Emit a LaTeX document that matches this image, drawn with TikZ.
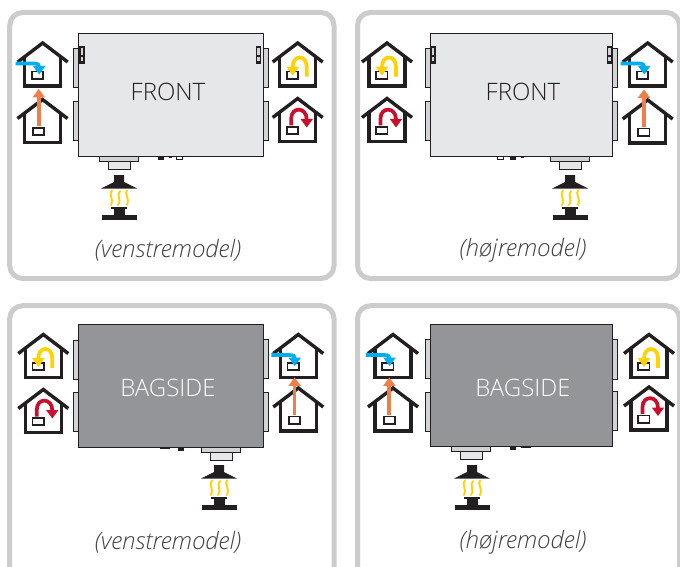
\documentclass[tikz,border=0pt]{standalone}
\usepackage{fontspec}
\setmainfont{Open Sans Light}
\definecolor{panelgrey}{HTML}{CCCCCC}
\definecolor{lightbody}{HTML}{E6E7E8}
\definecolor{darkbody}{HTML}{939598}
\definecolor{flangegrey}{HTML}{D1D3D4}
\definecolor{inkdark}{HTML}{231F20}
\definecolor{textgrey}{HTML}{414042}
\definecolor{airblue}{HTML}{00AEEF}
\definecolor{airorange}{HTML}{EF7F4A}
\definecolor{airyellow}{HTML}{FFD200}
\definecolor{airred}{HTML}{C8102E}
\tikzset{
  x=1pt,y=-1pt,
  panelbox/.style={draw=panelgrey,line width=5pt,rounded corners=13pt,fill=white},
  wall/.style={draw=inkdark,line width=3.4pt,miter limit=10},
  unit/.style={draw=inkdark,line width=0.9pt},
  flange/.style={draw=inkdark,line width=0.5pt,fill=flangegrey},
  flow/.style={line width=3.7pt},
  caption/.style={font=\fontsize{24}{28}\selectfont\itshape,text=textgrey,anchor=center},
  unitlabel/.style={font=\fontsize{24}{28}\selectfont,anchor=center},
  pics/home/.style={code={
    \draw[wall] (-25,19) -- (0,0) -- (25,19);
    \draw[wall] (-18,13) -- (-18,43) -- (18,43) -- (18,13);
    \draw[draw=inkdark,line width=1.8pt,fill=white] (#1,28.5) rectangle ++(11.2,7.2);
  }},
  pics/inflow/.style={code={
    \pic {home={-10.8}};
    \draw[airblue,flow] (-27,20.5) -- (-9,20.5) .. controls (-4.5,20.5) and (-3.5,22) .. (-3.5,24);
    \fill[airblue] (-9.8,23) -- (2.8,23) -- (-3.5,31.5) -- cycle;
  }},
  pics/upflow/.style={code={
    \pic {home={-9.4}};
    \draw[airorange,flow] (-3.7,27) -- (-3.7,-3);
    \fill[airorange] (-9.9,-2.2) -- (2.5,-2.2) -- (-3.7,-10.5) -- cycle;
  }},
  pics/yellowturn/.style={code={
    \pic {home={-10.8}};
    \draw[airyellow,flow] (9,33.7) -- (9,24) .. controls (9,11.3) and (-5,11.3) .. (-5,24);
    \fill[airyellow] (-11.2,23.7) -- (1.2,23.7) -- (-5,32.5) -- cycle;
  }},
  pics/redturn/.style={code={
    \pic {home={-10.8}};
    \draw[airred,flow] (-6.5,27) -- (-6.5,20) .. controls (-6.5,8) and (9,8) .. (9,21);
    \fill[airred] (2.8,20.5) -- (15.2,20.5) -- (9,29) -- cycle;
  }},
  pics/heater/.style={code={
    \fill[inkdark] (-5,0) -- (5,0) -- (5,7) -- (18,13.5) -- (-18,13.5) -- (-5,7) -- cycle;
    \draw[airyellow,line width=1.9pt,line cap=round]
      (-7,15.5) .. controls (-11,19) and (-5,23) .. (-8,30)
      (1,16) .. controls (-3,21) and (3,24) .. (-1,30)
      (8,15.5) .. controls (5,19) and (11,23) .. (8,30);
    \fill[inkdark] (-8,31.5) rectangle (8,33.5);
    \fill[inkdark] (-5.5,33) rectangle (5.5,40);
    \fill[inkdark] (-17.5,40) rectangle (17.5,45);
  }},
  pics/spigot/.style={code={
    \draw[flange] (-19.5,0) rectangle (19.5,5);
    \draw[flange,fill=lightbody] (-11,5) rectangle (11,12.5);
  }},
  pics/latch/.style={code={
    \fill[inkdark] (0,0) rectangle (5.5,18);
    \fill[flangegrey] (1.5,2) rectangle (4,9);
    \fill[flangegrey] (1.5,11) rectangle (4,15);
  }},
}
\begin{document}
\begin{tikzpicture}
\useasboundingbox (0,0) rectangle (680,567);
\clip (0,0) rectangle (680,567);
% panels
\draw[panelbox] (9.7,12.5) rectangle (334,278.5);
\draw[panelbox] (357.5,12.5) rectangle (679.5,278.5);
\draw[panelbox] (9.7,305.7) rectangle (334,580);
\draw[panelbox] (357.5,305.7) rectangle (679.5,580);

% --- panel 1
\draw[flange] (73,48) rectangle (78,87);
\draw[flange] (73,101) rectangle (78,140);
\draw[flange] (263,48) rectangle (268,87);
\draw[flange] (263,101) rectangle (268,140);
\draw[unit,fill=lightbody] (78,33) rectangle (263,156);
\pic at (79,46) {latch};
\pic at (255.5,46) {latch};
\pic at (119,156.5) {spigot};
\fill[inkdark] (158,156) rectangle (164,160);
\fill[inkdark] (169,156) rectangle (172,158);
\draw[inkdark,line width=0.7pt] (176,156.5) rectangle (182,159);
\pic at (119,175) {heater};
\pic at (42.7,43) {inflow};
\pic at (42.5,99.5) {upflow};
\pic at (297.7,43) {yellowturn};
\pic at (297.7,98.5) {redturn};
\node[unitlabel,text=inkdark] (front1) at (168,92) {FRONT};
\node[caption] (cap1) at (168,250.5) {(venstremodel)};

% --- panel 2
\draw[flange] (425,48) rectangle (430,87);
\draw[flange] (425,101) rectangle (430,140);
\draw[flange] (612.5,48) rectangle (617.5,87);
\draw[flange] (612.5,101) rectangle (617.5,140);
\draw[unit,fill=lightbody] (430,33) rectangle (612.5,156);
\pic at (430,46) {latch};
\pic at (606.5,46) {latch};
\pic at (570,156.5) {spigot};
\fill[inkdark] (510,156) rectangle (516,160);
\fill[inkdark] (521,156) rectangle (524,158);
\draw[inkdark,line width=0.7pt] (497,156.5) rectangle (503,159);
\pic at (570,175) {heater};
\pic at (387,43) {yellowturn};
\pic at (387,98.5) {redturn};
\pic at (647.7,43) {inflow};
\pic at (647.7,100) {upflow};
\node[unitlabel,text=inkdark] (front2) at (523,92) {FRONT};
\node[caption] (cap2) at (523,250.5) {(højremodel)};

% --- panel 3
\draw[flange] (73,340) rectangle (78,379);
\draw[flange] (73,392) rectangle (78,431.5);
\draw[flange] (263,339) rectangle (268,378.5);
\draw[flange] (263,392) rectangle (268,431);
\draw[unit,fill=darkbody] (78,324) rectangle (263,447);
\pic at (221,447.5) {spigot};
\fill[inkdark] (178,447) rectangle (184,451);
\fill[inkdark] (160,447) rectangle (170,449);
\pic at (219,465) {heater};
\pic at (43.3,334.5) {yellowturn};
\pic at (43.3,389.5) {redturn};
\pic at (298.3,334.5) {inflow};
\pic at (298.3,388) {upflow};
\node[unitlabel,text=white] (back1) at (168,388) {BAGSIDE};
\node[caption] (cap3) at (168,542.5) {(venstremodel)};

% --- panel 4
\draw[flange] (425,339) rectangle (430,378);
\draw[flange] (425,392) rectangle (430,431);
\draw[flange] (612.5,339) rectangle (617.5,379);
\draw[flange] (612.5,391) rectangle (617.5,430);
\draw[unit,fill=darkbody] (430,324) rectangle (612.5,446);
\pic at (471,446.5) {spigot};
\fill[inkdark] (510,446) rectangle (516,450);
\fill[inkdark] (521,446) rectangle (531,448);
\pic at (472,465) {heater};
\pic at (393,334.5) {inflow};
\pic at (393,388) {upflow};
\pic at (649,334.5) {yellowturn};
\pic at (649,387) {redturn};
\node[unitlabel,text=white] (back2) at (523,388) {BAGSIDE};
\node[caption] (cap4) at (523,542.5) {(højremodel)};
\end{tikzpicture}
\end{document}
